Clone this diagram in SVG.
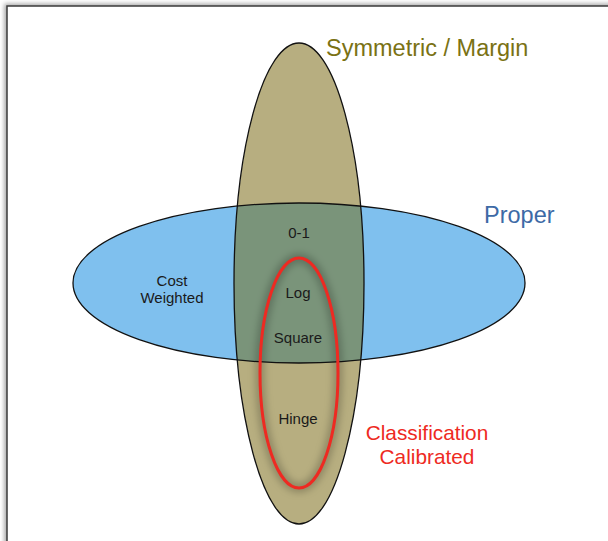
<svg xmlns="http://www.w3.org/2000/svg" width="608" height="541" viewBox="0 0 608 541">
<style>
.lbl{font-family:"Liberation Sans",Arial,sans-serif;font-size:15px;fill:#1a1a1a;text-anchor:middle}
.big{font-family:"Liberation Sans",Arial,sans-serif;font-size:23.5px}
.red{font-family:"Liberation Sans",Arial,sans-serif;font-size:20.8px;fill:#ee2a22;text-anchor:middle}
.edge{fill:none;stroke:#111;stroke-width:1.3}
</style>
<defs>
<filter id="frameShadow" x="-5%" y="-5%" width="110%" height="110%">
<feDropShadow dx="-2" dy="-1.5" stdDeviation="2" flood-color="#000" flood-opacity="0.35"/>
</filter>
<filter id="soft" x="-30%" y="-30%" width="160%" height="160%">
<feGaussianBlur stdDeviation="4"/>
</filter>
<clipPath id="hclip"><ellipse cx="299" cy="283" rx="226" ry="80"/></clipPath>
<clipPath id="vclip"><ellipse cx="299" cy="283.5" rx="65" ry="240.5"/></clipPath>
</defs>
<rect width="608" height="541" fill="#fff"/>
<rect x="7" y="6" width="640" height="600" fill="#fff" stroke="#3a3a3a" stroke-width="1.5" filter="url(#frameShadow)"/>
<g id="proper">
<ellipse cx="299" cy="283" rx="226" ry="80" fill="#7fc0ee"/>
</g>
<g id="symmetric">
<ellipse cx="299" cy="283.5" rx="65" ry="240.5" fill="#b7ae80"/>
<ellipse cx="299" cy="283.5" rx="65" ry="240.5" fill="#7a947a" clip-path="url(#hclip)"/>
</g>
<g id="outlines">
<ellipse class="edge" cx="299" cy="283" rx="226" ry="80"/>
<ellipse class="edge" cx="299" cy="283.5" rx="65" ry="240.5"/>
</g>
<g id="calibrated">
<g clip-path="url(#vclip)">
<ellipse cx="299" cy="373" rx="39" ry="115" fill="none" stroke="#000" stroke-opacity="0.35" stroke-width="6" filter="url(#soft)"/>
</g>
<ellipse cx="299" cy="373" rx="39" ry="115" fill="none" stroke="#ee2a22" stroke-width="3"/>
</g>
<g id="labels">
<text class="lbl" x="299" y="238">0-1</text>
<text class="lbl" x="298" y="298">Log</text>
<text class="lbl" x="298" y="343">Square</text>
<text class="lbl" x="298" y="424">Hinge</text>
<text class="lbl" x="172" y="286">Cost</text>
<text class="lbl" x="172" y="303">Weighted</text>
<text class="big" x="326" y="56" fill="#7a7214">Symmetric / Margin</text>
<text class="big" x="484" y="223" fill="#3d6aa6">Proper</text>
<text class="red" x="427" y="440">Classification</text>
<text class="red" x="427" y="464">Calibrated</text>
</g>
</svg>
